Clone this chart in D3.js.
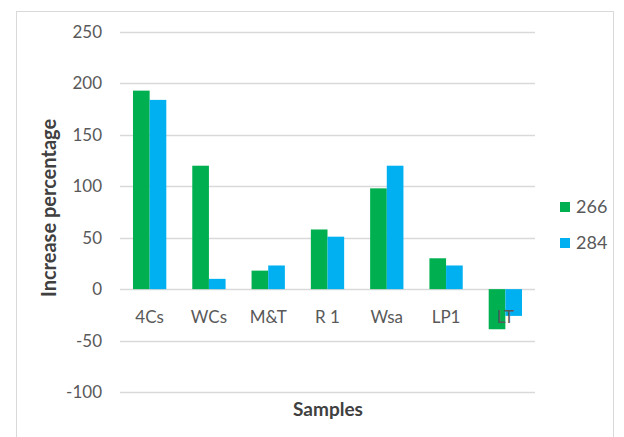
<!DOCTYPE html>
<html>
<head>
<meta charset="utf-8">
<script src="https://cdn.jsdelivr.net/npm/d3@7"></script>
<style>
  body { margin: 0; background: #fff; }
  svg text { font-family: "Lato", "Open Sans", sans-serif; }
</style>
</head>
<body>
<div id="chart"></div>
<script>
// data
const samples = ['4Cs', 'WCs', 'M&T', 'R 1', 'Wsa', 'LP1', 'LT'];
const seriesNames = ['266', '284'];
const values266 = [193, 120, 18, 58, 98, 30, -39];
const values284 = [184, 10, 23, 51, 120, 23, -26];
const yTicks = [-100, -50, 0, 50, 100, 150, 200, 250];
const colors = ['#00B050', '#00B0F0'];

const width = 624;
const height = 437;
const plot = { left: 120, right: 535, top: 32, bottom: 392 };

let svg = d3.select('#chart')
    .append('svg')
    .attr('width', width)
    .attr('height', height);

// chart area border
svg.append('rect')
    .attr('x', 16.5).attr('y', 11.5)
    .attr('width', 597).attr('height', 440)
    .attr('fill', 'none')
    .attr('stroke', '#d9d9d9');

const x = d3.scaleBand()
    .domain(samples)
    .range([plot.left, plot.right]);

const x1 = d3.scaleBand()
    .domain(seriesNames)
    .range([0, x.bandwidth()])
    .paddingOuter(0.78);

const y = d3.scaleLinear()
    .domain([-100, 250])
    .range([plot.bottom, plot.top]);

// gridlines
svg.append('g')
    .selectAll('line')
    .data(yTicks)
    .join('line')
    .attr('x1', plot.left).attr('x2', plot.right)
    .attr('y1', d => Math.round(y(d)) + 0.5)
    .attr('y2', d => Math.round(y(d)) + 0.5)
    .attr('stroke', '#d9d9d9')
    .attr('stroke-width', 1.3);

// y axis labels
const yAxis = d3.axisLeft(y).tickValues(yTicks).tickSize(0).tickPadding(18)
    .tickFormat(d => String(d));
svg.append('g')
    .attr('transform', 'translate(' + plot.left + ',0)')
    .call(yAxis)
    .call(g => g.select('.domain').remove())
    .call(g => g.selectAll('text')
        .attr('fill', '#595959')
        .style('font-size', '17px'));

// bars
const rows = samples.map((s, i) => ({ sample: s, vals: [values266[i], values284[i]] }));
svg.append('g')
    .selectAll('g')
    .data(rows)
    .join('g')
    .attr('transform', d => 'translate(' + x(d.sample) + ',0)')
    .selectAll('rect')
    .data(d => d.vals.map((v, k) => ({ name: seriesNames[k], v: v, k: k })))
    .join('rect')
    .attr('x', d => x1(d.name))
    .attr('width', x1.bandwidth())
    .attr('y', d => y(Math.max(0, d.v)))
    .attr('height', d => Math.abs(y(d.v) - y(0)))
    .attr('fill', d => colors[d.k]);

// category labels
const xAxis = d3.axisBottom(x).tickSize(0).tickPadding(22);
svg.append('g')
    .attr('transform', 'translate(0,' + y(0) + ')')
    .call(xAxis)
    .call(g => g.select('.domain').remove())
    .call(g => g.selectAll('text')
        .attr('fill', '#595959')
        .style('font-size', '17px'));

// axis titles
svg.append('text')
    .attr('x', 328).attr('y', 416)
    .attr('text-anchor', 'middle')
    .attr('fill', '#404040')
    .style('font-size', '19px')
    .style('font-weight', 'bold')
    .text('Samples');

svg.append('text')
    .attr('transform', 'translate(56,208) rotate(-90)')
    .attr('text-anchor', 'middle')
    .attr('fill', '#404040')
    .style('font-size', '20px')
    .style('font-weight', 'bold')
    .text('Increase percentage');

// legend
const legend = svg.append('g')
    .selectAll('g')
    .data(seriesNames)
    .join('g')
    .attr('transform', (d, i) => 'translate(560,' + (202 + i * 36) + ')');

legend.append('rect')
    .attr('width', 10).attr('height', 10)
    .attr('fill', (d, i) => colors[i]);

legend.append('text')
    .attr('x', 16).attr('y', 5)
    .attr('dy', '0.35em')
    .attr('fill', '#595959')
    .style('font-size', '18px')
    .text(d => d);
</script>
</body>
</html>
